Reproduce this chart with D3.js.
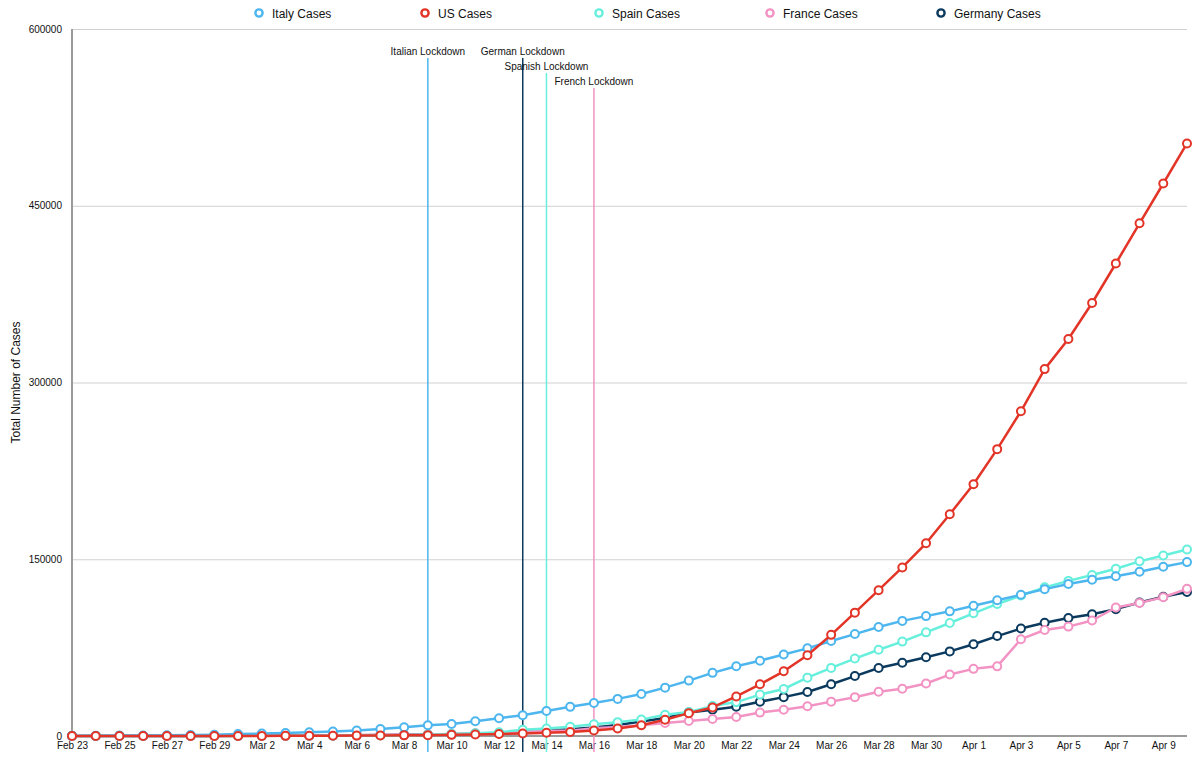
<!DOCTYPE html>
<html>
<head>
<meta charset="utf-8">
<script src="https://cdn.jsdelivr.net/npm/d3@7"></script>
<style>
  html, body { margin: 0; padding: 0; background: #fff; }
  svg { display: block; font-family: "Liberation Sans", Arial, Helvetica, sans-serif; }
</style>
</head>
<body>
<svg id="chart" width="1200" height="757"></svg>
<script>
// ---------- DATA ----------
const dates = [
  "Feb 23","Feb 24","Feb 25","Feb 26","Feb 27","Feb 28","Feb 29",
  "Mar 1","Mar 2","Mar 3","Mar 4","Mar 5","Mar 6","Mar 7","Mar 8","Mar 9","Mar 10",
  "Mar 11","Mar 12","Mar 13","Mar 14","Mar 15","Mar 16","Mar 17","Mar 18","Mar 19","Mar 20",
  "Mar 21","Mar 22","Mar 23","Mar 24","Mar 25","Mar 26","Mar 27","Mar 28","Mar 29","Mar 30","Mar 31",
  "Apr 1","Apr 2","Apr 3","Apr 4","Apr 5","Apr 6","Apr 7","Apr 8","Apr 9","Apr 10"
];
const xTickLabels = ["Feb 23","Feb 25","Feb 27","Feb 29","Mar 2","Mar 4","Mar 6","Mar 8","Mar 10",
  "Mar 12","Mar 14","Mar 16","Mar 18","Mar 20","Mar 22","Mar 24","Mar 26","Mar 28","Mar 30",
  "Apr 1","Apr 3","Apr 5","Apr 7","Apr 9"];
const yTicks = [0, 150000, 300000, 450000, 600000];

const italyCases = [155,229,322,453,655,888,1128,
  1694,2036,2502,3089,3858,4636,5883,7375,9172,10149,12462,15113,17660,21157,24747,27980,31506,35713,
  41035,47021,53578,59138,63927,69176,74386,80589,86498,92472,97689,101739,105792,
  110574,115242,119827,124632,128948,132547,135586,139422,143626,147577];
const usCases = [35,51,53,57,59,60,68,
  74,100,118,149,217,319,417,541,733,959,1281,1663,2179,2727,3499,4632,6421,9197,
  13747,19383,24207,33546,43847,54881,68572,85840,104686,123750,143055,163539,188172,
  213600,243453,275586,311357,336916,367468,401000,435128,468895,502876];
const spainCases = [2,2,6,13,15,32,45,
  84,120,165,222,259,400,500,673,1073,1695,2277,3146,5232,6391,7798,9942,11748,13910,
  17963,20410,25374,28768,35136,39885,49515,57786,65719,73235,80110,87956,95923,
  104118,112065,119199,126168,131646,136675,141942,148220,153222,158273];
const franceCases = [12,12,12,18,38,57,100,
  130,191,204,288,380,656,957,1136,1219,1794,2293,2293,3681,4496,4532,6683,7715,9124,
  10970,12758,14463,16176,19856,22304,25233,29155,32964,37575,40174,44550,52128,
  56989,59105,82165,89953,92839,98010,109069,112950,117749,124869];
const germanyCases = [16,16,17,27,46,48,79,
  130,159,196,262,482,670,799,1040,1176,1457,1908,2078,3675,4585,5795,7272,9257,12327,
  15320,19848,22213,24873,29056,32986,37323,43938,50871,57695,62095,66885,71808,
  77872,84794,91159,96092,100123,103374,107663,113296,118181,122171];

const seriesNames = ["Italy Cases","US Cases","Spain Cases","France Cases","Germany Cases"];
const seriesColors = ["#4db6ee","#e23427","#66efdc","#f293c3","#0b3a5e"];
const seriesValues = [italyCases, usCases, spainCases, franceCases, germanyCases];

const lockdownLabels = ["Italian Lockdown","German Lockdown","Spanish Lockdown","French Lockdown"];
const lockdownDates = ["Mar 9","Mar 13","Mar 14","Mar 16"];
const lockdownColors = ["#4db6ee","#0b3a5e","#66efdc","#f293c3"];
const lockdownRows = [0, 0, 1, 2];  // label stacking row

// ---------- LAYOUT ----------
const svg = d3.select("#chart");
const plotL = 72, plotR = 1187, plotT = 29, plotB = 736;
const legendX = [259, 425, 599, 770, 941];

const x = d3.scalePoint().domain(dates).range([plotL, plotR]);
const y = d3.scaleLinear().domain([0, 600000]).range([plotB, plotT]);

// gridlines
svg.append("g")
  .attr("transform", `translate(${plotL},0)`)
  .call(d3.axisLeft(y).tickValues(yTicks.filter(d => d > 0)).tickSize(-(plotR - plotL)).tickFormat(""))
  .call(g => g.select(".domain").remove())
  .call(g => g.selectAll("line").attr("stroke", "#d0d0d0").attr("stroke-width", 1));

// y axis labels
svg.append("g")
  .attr("transform", `translate(${plotL},0)`)
  .call(d3.axisLeft(y).tickValues(yTicks).tickSize(0).tickPadding(10).tickFormat(d3.format("d")))
  .call(g => g.select(".domain").remove())
  .call(g => g.selectAll("text").attr("font-size", 10).attr("fill", "#111")
      .attr("font-family", "'Liberation Sans', Arial, sans-serif"));

// x axis labels
svg.append("g")
  .attr("transform", `translate(0,${plotB})`)
  .call(d3.axisBottom(x).tickValues(xTickLabels).tickSize(0).tickPadding(6))
  .call(g => g.select(".domain").remove())
  .call(g => g.selectAll("text").attr("font-size", 10).attr("fill", "#111")
      .attr("font-family", "'Liberation Sans', Arial, sans-serif"));

// axis lines
svg.append("line").attr("x1", plotL).attr("x2", plotL).attr("y1", plotT).attr("y2", plotB)
  .attr("stroke", "#9b9b9b").attr("stroke-width", 2);
svg.append("line").attr("x1", plotL).attr("x2", plotR).attr("y1", plotB).attr("y2", plotB)
  .attr("stroke", "#9b9b9b").attr("stroke-width", 2);

// y title
svg.append("text")
  .attr("transform", `translate(20,${(plotT + plotB) / 2}) rotate(-90)`)
  .attr("text-anchor", "middle")
  .attr("font-size", 12).attr("fill", "#111")
  .text("Total Number of Cases");

// lockdown lines & labels
const rowBase = [55, 70, 85];
lockdownLabels.forEach((lab, i) => {
  const lx = x(lockdownDates[i]);
  const by = rowBase[lockdownRows[i]];
  svg.append("line")
    .attr("x1", lx).attr("x2", lx).attr("y1", by + 3).attr("y2", 752)
    .attr("stroke", lockdownColors[i]).attr("stroke-width", 1.5);
});
lockdownLabels.forEach((lab, i) => {
  const lx = x(lockdownDates[i]);
  const by = rowBase[lockdownRows[i]];
  svg.append("text")
    .attr("x", lx).attr("y", by)
    .attr("text-anchor", "middle")
    .attr("font-size", 10).attr("fill", "#111")
    .text(lab);
});

// series lines (draw order: Germany, France, Spain, Italy, US)
const drawOrder = [4, 3, 2, 0, 1];
const line = d3.line().x((d, i) => x(dates[i])).y(d => y(d));
drawOrder.forEach(si => {
  const g = svg.append("g");
  g.append("path")
    .datum(seriesValues[si])
    .attr("d", line)
    .attr("fill", "none")
    .attr("stroke", seriesColors[si])
    .attr("stroke-width", 2.5)
    .attr("stroke-linejoin", "round");
  g.selectAll("circle")
    .data(seriesValues[si])
    .join("circle")
    .attr("cx", (d, i) => x(dates[i]))
    .attr("cy", d => y(d))
    .attr("r", 4)
    .attr("fill", "#fff")
    .attr("stroke", seriesColors[si])
    .attr("stroke-width", 2);
});

// legend
const legend = svg.append("g");
seriesNames.forEach((name, i) => {
  legend.append("circle")
    .attr("cx", legendX[i]).attr("cy", 13).attr("r", 3.6)
    .attr("fill", "#fff").attr("stroke", seriesColors[i]).attr("stroke-width", 2.4);
  legend.append("text")
    .attr("x", legendX[i] + 13).attr("y", 17.5)
    .attr("font-size", 12).attr("fill", "#111")
    .text(name);
});
</script>
</body>
</html>
